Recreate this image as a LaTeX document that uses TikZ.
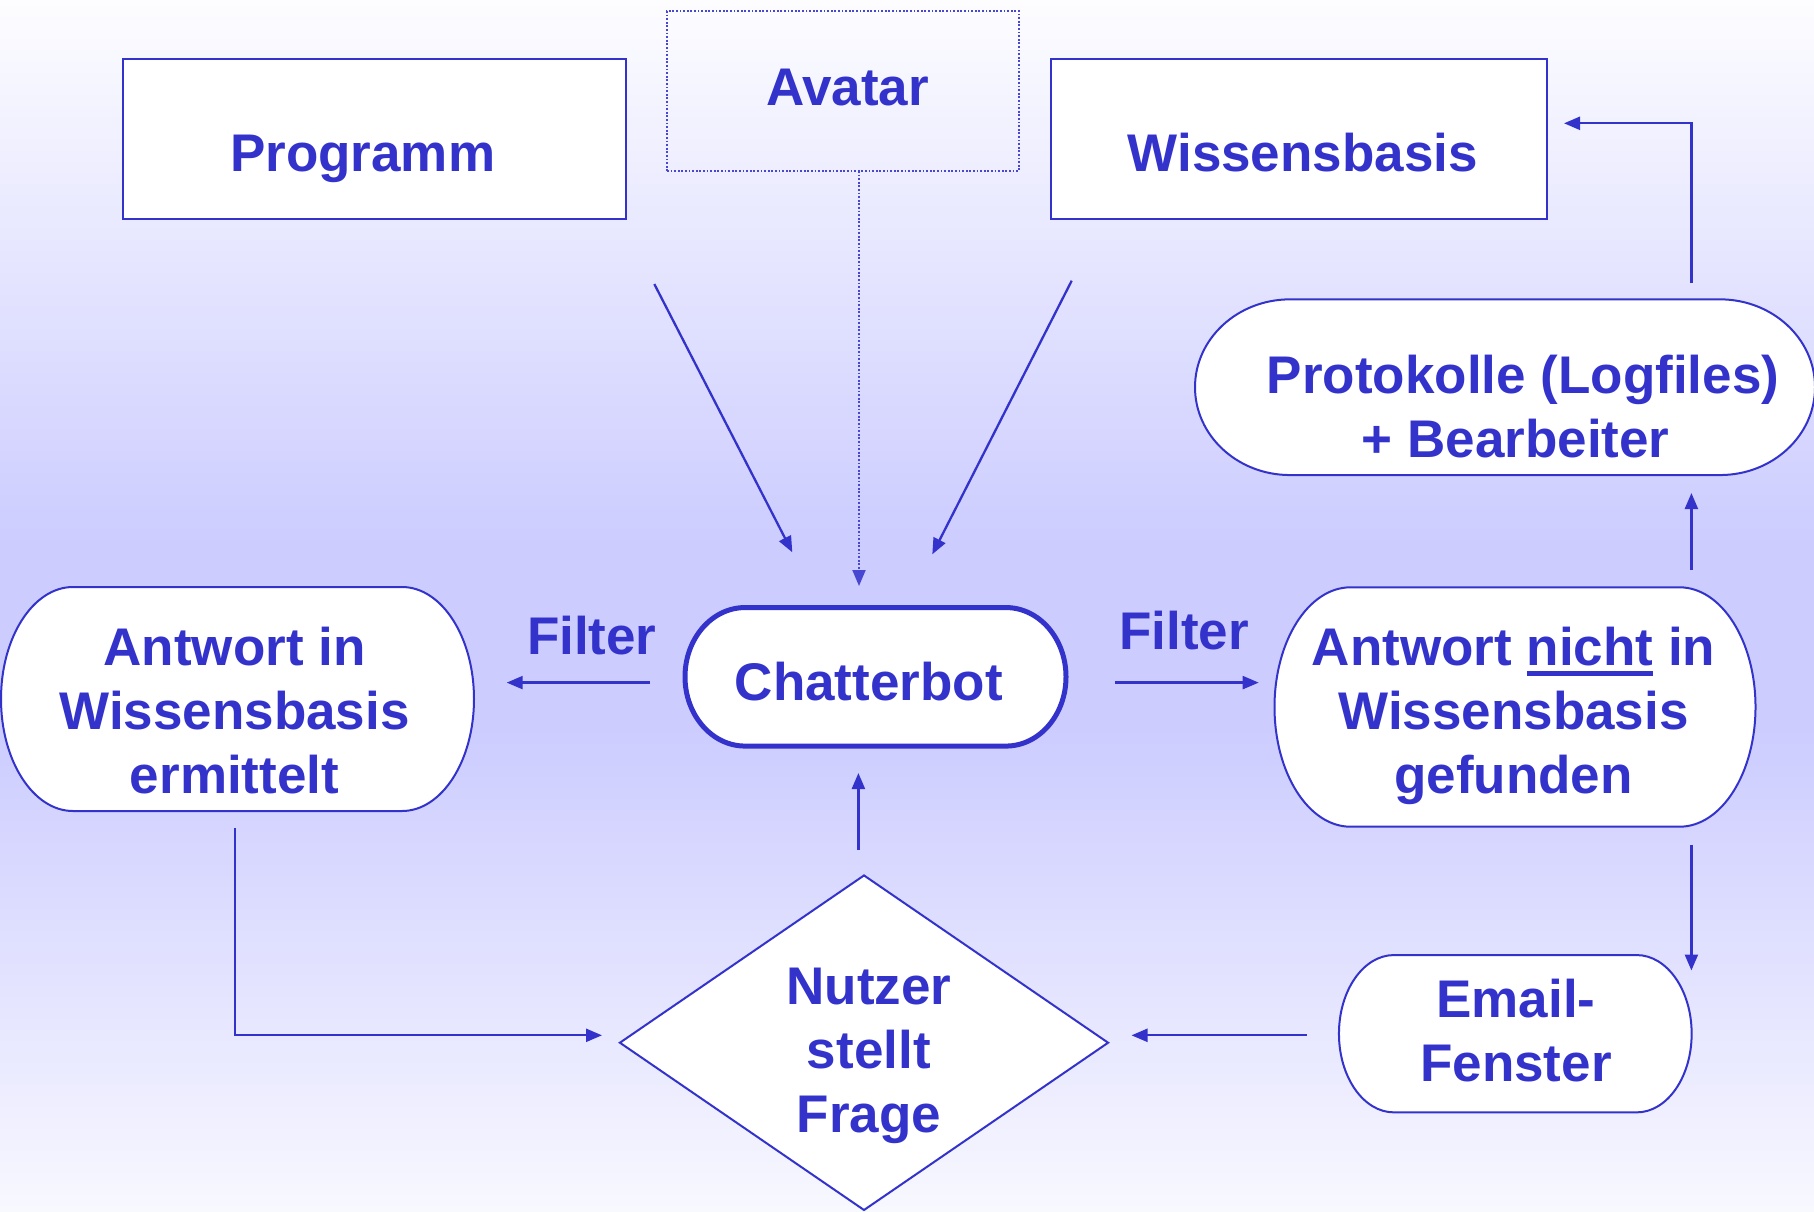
\documentclass[tikz,border=0pt]{standalone}
\usepackage{fontspec}
\setmainfont{Liberation Sans}
\usetikzlibrary{arrows.meta,calc,shapes.geometric}

\definecolor{ink}{RGB}{51,51,204}
\definecolor{haze}{RGB}{204,204,255}
\definecolor{paletop}{RGB}{253,253,255}
\definecolor{palebot}{RGB}{248,248,255}

% soft vertical band: pale at top and bottom, lilac through the middle
% (only the central 25bp..75bp part is stretched over the path)
\pgfdeclareverticalshading{skyband}{100bp}{color(0bp)=(palebot); color(25bp)=(palebot); color(45bp)=(haze); color(52.5bp)=(haze); color(75bp)=(paletop); color(100bp)=(paletop)}

% centred lines whose baseline is the first line
\newcommand\stack[1]{\begin{tabular}[t]{@{}c@{}}#1\end{tabular}}
% heavy underline for a single word
\newcommand\ulword[1]{\setbox0\hbox{#1}\rlap{\rule[-10.5pt]{\wd0}{4.5pt}}\box0\relax}
% terminator outline round a node: flat top and bottom, elliptic ends
\newcommand\termpath[3]{%
  \path[#3] let \p1=(#1.north west), \p2=(#1.south east) in
    (\x1+#2pt,\y1) -- (\x2-#2pt,\y1)
    arc[start angle=90,end angle=-90,x radius=#2pt,y radius={(\y1-\y2)/2}]
    -- (\x1+#2pt,\y2)
    arc[start angle=270,end angle=90,x radius=#2pt,y radius={(\y1-\y2)/2}]
    -- cycle;}

\begin{document}
\begin{tikzpicture}[x=1pt,y=-1pt,
  every node/.style={font=\fontsize{53}{64}\selectfont\bfseries, text=ink},
  frame/.style={rectangle, draw=ink, line width=2pt, fill=white, inner sep=0pt},
  blank/.style={rectangle, inner sep=0pt, outer sep=0pt},
  txt/.style={anchor=base, inner sep=0pt},
  outline/.style={draw=ink, line width=2pt, fill=white},
  conn/.style={draw=ink, line width=2.3pt, -{Triangle[length=16pt,width=13pt]}},
]
\useasboundingbox (0,0) rectangle (1814,1211);
\shade[shading=skyband] (0,0) rectangle (1814,1211);

% --- top row of sources
\node[frame, minimum width=503.4pt, minimum height=159.7pt] (prog) at (374.3,139) {};
\node[frame, fill=none, draw=ink!90, dash pattern=on 1.8pt off 1.8pt,
      minimum width=352pt, minimum height=160pt] (ava) at (843,91) {};
\node[frame, minimum width=496.8pt, minimum height=160pt] (wis) at (1298.9,139) {};

% --- terminator shapes
\node[blank, minimum width=381pt, minimum height=138.5pt] (chat) at (875.5,676.8) {};
\termpath{chat}{60}{draw=ink, line width=5pt, fill=white}
\node[blank, minimum width=473pt, minimum height=224pt] (found) at (237.5,699) {};
\termpath{found}{72}{outline}
\node[blank, minimum width=481pt, minimum height=239.4pt] (miss) at (1515,707) {};
\termpath{miss}{76}{outline}
\node[blank, minimum width=620pt, minimum height=175.7pt] (logs) at (1505,387.2) {};
\termpath{logs}{95}{outline}
\node[blank, minimum width=352.7pt, minimum height=157.3pt] (mail) at (1515.3,1033.7) {};
\termpath{mail}{55}{outline}

% --- question diamond
\node[diamond, draw=ink, line width=2pt, fill=white, inner sep=0pt,
      minimum width=489pt, minimum height=335.4pt] (ask) at (864,1042.7) {};

% --- texts
\node[txt] (progt) at (362.7,171.2) {Programm};
\node[txt] (avat) at (847.5,105) {Avatar};
\node[txt] (wist) at (1302.7,171) {Wissensbasis};
\node[txt] (chatt) at (868.8,700) {Chatterbot};
\node[txt] (filterl) at (591.8,654.5) {Filter};
\node[txt] (filterr) at (1184,649) {Filter};
\node[txt] (foundt) at (234.5,665) {\stack{Antwort in\\Wissensbasis\\ermittelt}};
\node[txt] (misst) at (1513.5,665) {\stack{Antwort \ulword{nicht} in\\Wissensbasis\\gefunden}};
\node[txt] (logst) at (1523,393.3) {\stack{Protokolle (Logfiles)\\+ Bearbeiter\kern14.7pt}};
\node[txt] (askt) at (868.8,1004.3) {\stack{Nutzer\\stellt\\Frage}};
\node[txt] (mailt) at (1516,1017.3) {\stack{Email-\\Fenster}};

% --- free ends of the connectors
\coordinate (progout) at (654.3,284);
\coordinate (chatinl) at (792.3,552.3);
\coordinate (wisout) at (1071.7,280.7);
\coordinate (chatinr) at (932.3,554.3);
\coordinate (avaout) at (859,171);
\coordinate (chatintop) at (859,586);
\coordinate (chatoutl) at (650,682.6);
\coordinate (foundin) at (506.7,682.6);
\coordinate (chatoutr) at (1115,682.6);
\coordinate (missin) at (1258.7,682.6);
\coordinate (askout) at (858.4,850);
\coordinate (chatinbot) at (858.4,773);
\coordinate (foundout) at (234.7,828.3);
\coordinate (askinl) at (602,1035.3);
\coordinate (mailout) at (1307,1035.3);
\coordinate (askinr) at (1131.5,1035.3);
\coordinate (missdown) at (1691.4,844.5);
\coordinate (mailin) at (1691.4,970.5);
\coordinate (missup) at (1691.4,570);
\coordinate (logsin) at (1691.4,493);
\coordinate (logsout) at (1691.4,283.4);
\coordinate (wisin) at (1564,123.3);

% --- connectors
\draw[conn] (progout) -- (chatinl);
\draw[conn] (wisout) -- (chatinr);
\draw[conn, line width=2pt, dash pattern=on 1.8pt off 1.8pt, draw=ink!90] (avaout) -- (chatintop);
\draw[conn] (chatoutl) -- (foundin);
\draw[conn] (chatoutr) -- (missin);
\draw[conn] (askout) -- (chatinbot);
\draw[conn] (foundout) |- (askinl);
\draw[conn] (mailout) -- (askinr);
\draw[conn] (missdown) -- (mailin);
\draw[conn] (missup) -- (logsin);
\draw[conn] (logsout) |- (wisin);
\end{tikzpicture}
\end{document}
